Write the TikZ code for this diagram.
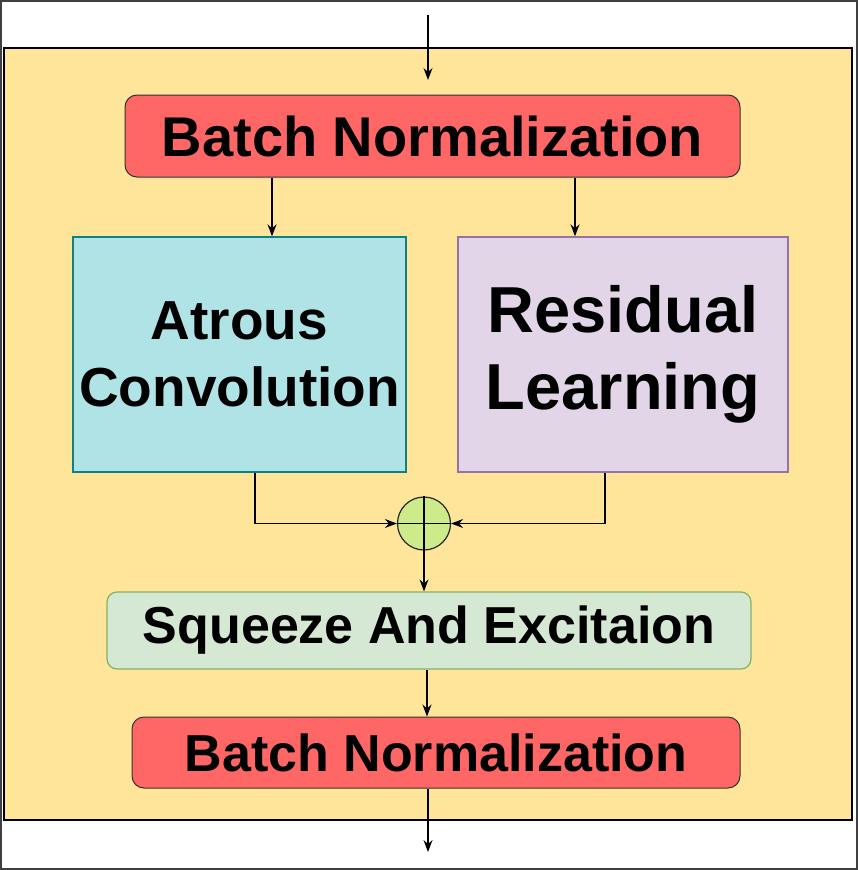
\documentclass[tikz,border=0pt]{standalone}
\usepackage{fontspec}
\setmainfont{Liberation Sans}
\usetikzlibrary{arrows.meta,calc}
\definecolor{bgyellow}{HTML}{FFE599}
\definecolor{bnred}{HTML}{FF6666}
\definecolor{tealfill}{HTML}{B0E3E6}
\definecolor{tealline}{HTML}{0E8088}
\definecolor{purfill}{HTML}{E1D5E7}
\definecolor{purline}{HTML}{9673A6}
\definecolor{sefill}{HTML}{D5E8D4}
\definecolor{seline}{HTML}{82B366}
\definecolor{plusfill}{HTML}{CDEB8B}
\definecolor{frame}{HTML}{404040}
\tikzset{
  arr/.style={draw=black, line width=1.2pt, -{Stealth[length=12pt,width=9pt,inset=4pt]}},
  bnbox/.style={draw=black!80, line width=1pt, fill=bnred, rounded corners=12pt, align=center},
  bigbox/.style={line width=1.4pt, align=center},
}
\begin{document}
\begin{tikzpicture}[x=1pt,y=-1pt]
\useasboundingbox (0,0) rectangle (858,870);
\draw[frame, line width=2pt] (1,1) rectangle (857,869);
\draw[black, line width=2pt, fill=bgyellow] (4,48) rectangle (852,820);

\node[bnbox, minimum width=615pt, minimum height=82pt, font=\bfseries\fontsize{56}{62}\selectfont] (bn1) at (432.5,136)
  {Batch Normalization};
\node[bigbox, draw=tealline, fill=tealfill, minimum width=333pt, minimum height=235pt, font=\bfseries\fontsize{55}{67}\selectfont] (atrous) at (239.5,354.5)
  {Atrous\\Convolution};
\node[bigbox, draw=purline, fill=purfill, minimum width=330pt, minimum height=235pt, font=\bfseries\fontsize{65}{77}\selectfont] (resid) at (623,354.5)
  {Residual\\Learning};
\node[circle, draw=black!85, line width=1.2pt, fill=plusfill, minimum size=53pt, inner sep=0pt] (plus) at (424,523.5) {};
\draw[line width=1.5pt] (plus.north) -- (plus.south) (plus.west) -- (plus.east);
\node[draw=seline, line width=1.2pt, fill=sefill, rounded corners=10pt, minimum width=644pt, minimum height=77pt, font=\bfseries\fontsize{52}{60}\selectfont] (se) at (429,630.5)
  {Squeeze And Excitaion};
\node[bnbox, minimum width=608pt, minimum height=71pt, font=\bfseries\fontsize{52}{60}\selectfont] (bn2) at (436,752.5)
  {Batch Normalization};

\coordinate (in) at (428,15);
\coordinate (intip) at (428,80);
\coordinate (out) at (428,852);

\draw[arr] (in) -- (intip);
\draw[arr] ([xshift=-160.5pt]bn1.south) -- ([xshift=-160.5pt]bn1.south |- atrous.north);
\draw[arr] ([xshift=142.5pt]bn1.south) -- ([xshift=142.5pt]bn1.south |- resid.north);
\draw[arr] ([xshift=15.5pt]atrous.south) |- (plus.west);
\draw[arr] ([xshift=-18pt]resid.south) |- (plus.east);
\draw[arr] (plus.south) -- (plus.south |- se.north);
\draw[arr] ([xshift=-2pt]se.south) -- ([xshift=-2pt]se.south |- bn2.north);
\draw[arr] ([xshift=-8pt]bn2.south) -- (out);
\end{tikzpicture}
\end{document}
